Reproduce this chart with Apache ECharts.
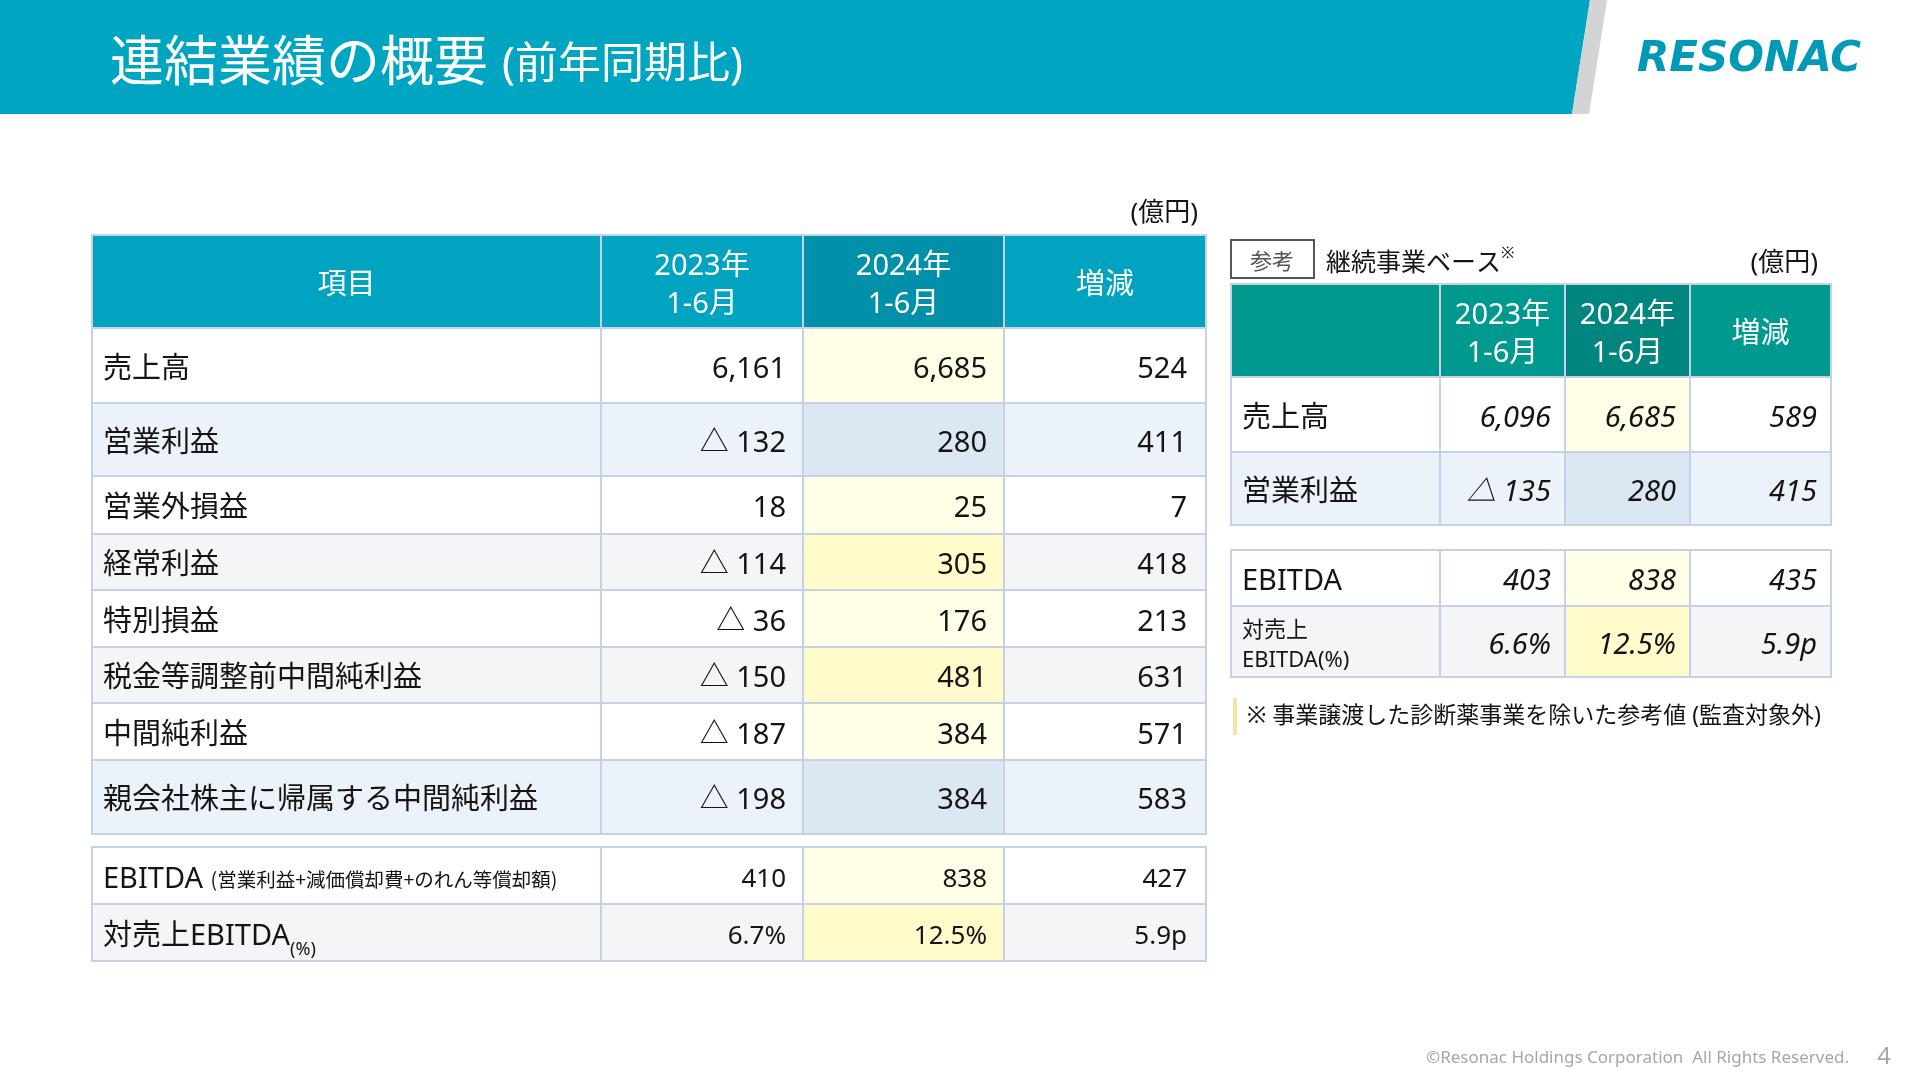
<!DOCTYPE html>
<html>
<head>
<meta charset="utf-8">
<script src="https://cdn.jsdelivr.net/npm/echarts@6/dist/echarts.min.js"></script>
<style>
html,body{margin:0;padding:0;background:#fff;}
#main{width:1920px;height:1080px;}
</style>
</head>
<body>
<div id="main"></div>
<script>
// ---------- DATA ----------
const categories = ['売上高','営業利益','営業外損益','経常利益','特別損益','税金等調整前中間純利益','中間純利益','親会社株主に帰属する中間純利益'];
const headerLabels = ['項目','2023年\n1-6月','2024年\n1-6月','増減'];
const values2023 = [6161, -132, 18, -114, -36, -150, -187, -198];
const values2024 = [6685, 280, 25, 305, 176, 481, 384, 384];
const changes = [524, 411, 7, 418, 213, 631, 571, 583];

const ebitdaLabels = ['EBITDA','対売上EBITDA'];
const ebitda2023 = [410, 6.7];
const ebitda2024 = [838, 12.5];
const ebitdaChange = [427, 5.9];

const contCategories = ['売上高','営業利益'];
const cont2023 = [6096, -135];
const cont2024 = [6685, 280];
const contChange = [589, 415];
const contEbitdaLabels = ['EBITDA','対売上\nEBITDA(%)'];
const contEbitda2023 = [403, 6.6];
const contEbitda2024 = [838, 12.5];
const contEbitdaChange = [435, 5.9];

// ---------- LAYOUT / STYLE ----------
const FONT = "'Noto Sans', 'Noto Sans CJK JP', sans-serif";
const CJK = "'Noto Sans CJK JP', 'Noto Sans', sans-serif";
const BORDER = '#C4D1E7';
const TXT = '#141414';
const DY = 4;
const tone = {
  w: ['#FFFFFF', '#FFFEE7'],
  b: ['#EBF2FA', '#DCE7F4'],
  g: ['#F4F5F7', '#FFFBCB']
};
const colEdgesL = [92, 601, 803, 1004, 1206];
const rowEdgesL = [235, 328, 403, 476, 534, 590, 647, 703, 760, 834];
const rowEdgesLE = [847, 904, 961];
const rowToneL = ['w','b','w','g','w','g','w','b'];
const rowToneLE = ['w','g'];
const colEdgesR = [1231, 1440, 1565, 1690, 1831];
const rowEdgesR = [284, 377, 452, 525];
const rowEdgesRE = [550, 606, 677];
const rowToneR = ['w','b'];
const rowToneRE = ['w','g'];

function fmt(v){ return v < 0 ? '△ ' + Math.abs(v).toLocaleString('en-US') : v.toLocaleString('en-US'); }
function pct(v){ return v.toFixed(1) + '%'; }
function pt(v){ return v.toFixed(1) + 'p'; }

function headerCells(cells, colEdges, y0, y1, labels, head, head24){
  labels.forEach((t, c) => cells.push({x0: colEdges[c], x1: colEdges[c+1], y0, y1, text: t,
    fill: c === 2 ? head24 : head, color: '#FFFFFF', align: 'center', size: 29, lh: 38}));
}
function bodyCells(cells, colEdges, rowEdges, offset, labels, cols, tones, opt){
  labels.forEach((lab, r) => {
    const y0 = rowEdges[r + offset], y1 = rowEdges[r + offset + 1];
    const tn = tone[tones[r]];
    const l = Object.assign({x0: colEdges[0], x1: colEdges[1], y0, y1, fill: tn[0], color: TXT, align: 'left', size: opt.labelSize, lh: opt.labelLh || 36}, 
      typeof lab === 'object' ? lab : {text: lab});
    cells.push(l);
    cols.forEach((arr, c) => {
      cells.push({x0: colEdges[c+1], x1: colEdges[c+2], y0, y1, fill: c === 1 ? tn[1] : tn[0],
        text: opt.format(arr[r], r, c), color: TXT, align: 'right', size: opt.numSize, italic: opt.italic,
        pad: c === 2 ? opt.padLast : opt.pad});
    });
  });
}

// Left main table
const cellsL = [];
headerCells(cellsL, colEdgesL, rowEdgesL[0], rowEdgesL[1], headerLabels, '#00A4C1', '#0090AA');
bodyCells(cellsL, colEdgesL, rowEdgesL, 1, categories, [values2023, values2024, changes], rowToneL,
  {labelSize: 29, numSize: 29, pad: 17, padLast: 19, format: (v) => fmt(v)});
// Left EBITDA table
const cellsLE = [];
bodyCells(cellsLE, colEdgesL, rowEdgesLE, 0,
  [{text: 'EBITDA {s|(営業利益+減価償却費+のれん等償却額)}', rich: {s: {fontSize: 19.5, fontFamily: CJK, fill: TXT}}},
   {text: '対売上EBITDA{sub|(%)}', rich: {sub: {fontSize: 18, fontFamily: FONT, fill: TXT, verticalAlign: 'bottom', lineHeight: 22}}}],
  [ebitda2023, ebitda2024, ebitdaChange], rowToneLE,
  {labelSize: 29, labelLh: 44, numSize: 26, pad: 17, padLast: 19,
   format: (v, r, c) => r === 0 ? fmt(v) : (c === 2 ? pt(v) : pct(v))});
// Right tables
const cellsR = [];
headerCells(cellsR, colEdgesR, rowEdgesR[0], rowEdgesR[1], ['', headerLabels[1], headerLabels[2], headerLabels[3]], '#00998F', '#00867E');
bodyCells(cellsR, colEdgesR, rowEdgesR, 1, contCategories, [cont2023, cont2024, contChange], rowToneR,
  {labelSize: 29, numSize: 29, italic: true, pad: 14, padLast: 14, format: (v) => fmt(v)});
const cellsRE = [];
bodyCells(cellsRE, colEdgesR, rowEdgesRE, 0,
  [{text: contEbitdaLabels[0]}, {text: contEbitdaLabels[1], size: 22, lh: 30}],
  [contEbitda2023, contEbitda2024, contEbitdaChange], rowToneRE,
  {labelSize: 29, numSize: 29, italic: true, pad: 14, padLast: 14,
   format: (v, r, c) => r === 0 ? fmt(v) : (c === 2 ? pt(v) : pct(v))});

function tableSeries(cells){
  return {
    type: 'custom',
    coordinateSystem: 'cartesian2d',
    silent: true,
    data: cells.map((c, i) => [c.x0, c.y0, i]),
    renderItem: function(params, api){
      const c = cells[api.value(2)];
      const p0 = api.coord([c.x0, c.y0]);
      const p1 = api.coord([c.x1, c.y1]);
      const w = p1[0] - p0[0], h = p1[1] - p0[1];
      const pad = c.pad != null ? c.pad : 11;
      const tx = c.align === 'center' ? p0[0] + w / 2 : (c.align === 'right' ? p1[0] - pad : p0[0] + pad);
      const ts = {text: c.text, x: tx, y: p0[1] + h / 2 + DY, align: c.align, verticalAlign: 'middle',
        fill: c.color, fontSize: c.size, fontFamily: FONT, lineHeight: c.lh || 36,
        fontStyle: c.italic ? 'italic' : 'normal'};
      if (c.rich) ts.rich = c.rich;
      return {type: 'group', children: [
        {type: 'rect', shape: {x: p0[0], y: p0[1], width: w, height: h},
         style: {fill: c.fill, stroke: BORDER, lineWidth: 2}},
        {type: 'text', style: ts}
      ]};
    }
  };
}

const chart = echarts.init(document.getElementById('main'), null, {renderer: 'canvas'});
chart.setOption({
  animation: false,
  backgroundColor: '#FFFFFF',
  grid: {left: 0, top: 0, right: 0, bottom: 0},
  xAxis: {type: 'value', min: 0, max: 1920, show: false},
  yAxis: {type: 'value', min: 0, max: 1080, inverse: true, show: false},
  graphic: [
    {type: 'polygon', shape: {points: [[0,0],[1590,0],[1572,114],[0,114]]}, style: {fill: '#00A5C2'}, z: 1},
    {type: 'polygon', shape: {points: [[1590,0],[1607,0],[1589,114],[1572,114]]}, style: {fill: '#D4D4D4'}, z: 1},
    {type: 'text', x: 110, y: 66, z: 2, style: {text: '連結業績の概要 {s|(前年同期比)}', fill: '#FFFFFF', fontSize: 54,
      fontFamily: FONT, verticalAlign: 'middle', rich: {s: {fontSize: 43, fill: '#FFFFFF', fontFamily: FONT}}}},
    {type: 'text', x: 1637, y: 60, z: 2, style: {text: 'RESONAC', fill: '#0099B6', fontSize: 42, fontWeight: 'bold',
      fontStyle: 'italic', fontFamily: "'DejaVu Sans', sans-serif", verticalAlign: 'middle'}},
    {type: 'text', x: 1198, y: 214, z: 2, style: {text: '(億円)', fill: TXT, fontSize: 26, fontFamily: FONT, align: 'right', verticalAlign: 'middle'}},
    {type: 'rect', shape: {x: 1231, y: 240, width: 83, height: 38}, style: {fill: '#FFFFFF', stroke: '#555555', lineWidth: 2}, z: 2},
    {type: 'text', x: 1272, y: 261, z: 3, style: {text: '参考', fill: '#555555', fontSize: 22, fontFamily: CJK, align: 'center', verticalAlign: 'middle'}},
    {type: 'text', x: 1326, y: 261, z: 2, style: {text: '継続事業ベース{s|※}', fill: TXT, fontSize: 25, fontFamily: CJK, verticalAlign: 'middle',
      rich: {s: {fontSize: 16, fill: TXT, verticalAlign: 'top', lineHeight: 30}}}},
    {type: 'text', x: 1818, y: 264, z: 2, style: {text: '(億円)', fill: TXT, fontSize: 26, fontFamily: FONT, align: 'right', verticalAlign: 'middle'}},
    {type: 'rect', shape: {x: 1233, y: 698, width: 4, height: 37}, style: {fill: '#F8E3A0'}, z: 2},
    {type: 'text', x: 1247, y: 716, z: 2, style: {text: '※ 事業譲渡した診断薬事業を除いた参考値 (監査対象外)', fill: TXT, fontSize: 23, fontFamily: FONT, verticalAlign: 'middle'}},
    {type: 'text', x: 1849, y: 1058, z: 2, style: {text: '©Resonac Holdings Corporation  All Rights Reserved.', fill: '#A6A6A6', fontSize: 17, fontFamily: FONT, align: 'right', verticalAlign: 'middle'}},
    {type: 'text', x: 1884, y: 1057, z: 2, style: {text: '4', fill: '#A6A6A6', fontSize: 24, fontFamily: FONT, align: 'center', verticalAlign: 'middle'}}
  ],
  series: [tableSeries(cellsL), tableSeries(cellsLE), tableSeries(cellsR), tableSeries(cellsRE)]
});
</script>
</body>
</html>
